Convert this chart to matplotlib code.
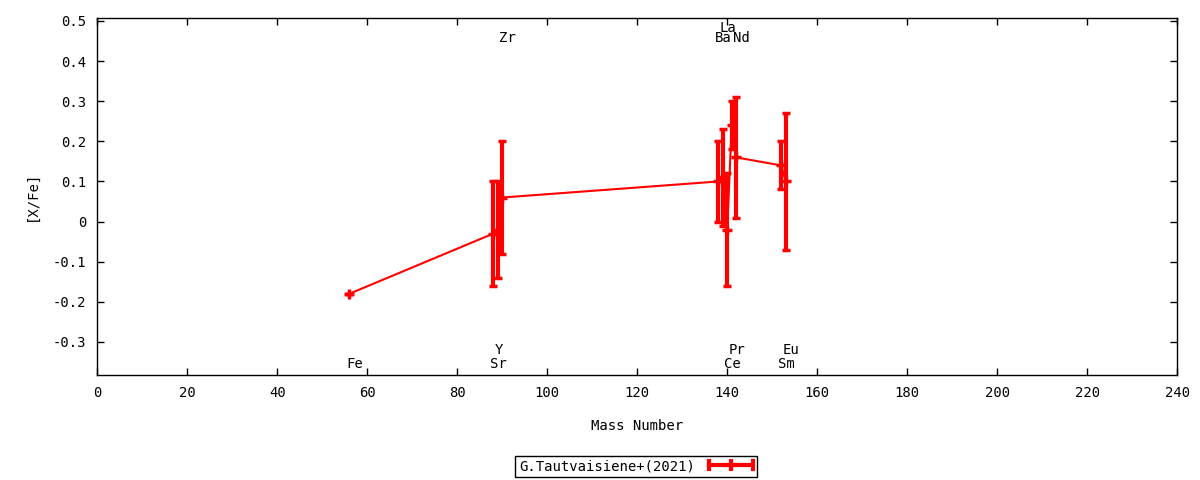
import matplotlib
matplotlib.use('Agg')
from matplotlib import pyplot as plt
from matplotlib.legend_handler import HandlerBase
from matplotlib.lines import Line2D
from matplotlib.ticker import FuncFormatter, MultipleLocator

# 元素、质量数、丰度及误差
elements = ['Fe', 'Sr', 'Y', 'Zr', 'Ba', 'La', 'Ce', 'Pr', 'Nd', 'Sm', 'Eu']
mass = [56, 88, 89, 90, 138, 139, 140, 141, 142, 152, 153]
x_fe = [-0.18, -0.03, -0.02, 0.06, 0.10, 0.11, -0.02, 0.24, 0.16, 0.14, 0.10]
err = [0.0, 0.13, 0.12, 0.14, 0.10, 0.12, 0.14, 0.06, 0.15, 0.06, 0.17]
# 标签所在的行：0=下面低, 1=下面高, 2=上面低, 3=上面高
label_row = [0, 0, 1, 2, 2, 3, 0, 1, 2, 0, 1]
row_y = {0: -0.355, 1: -0.32, 2: 0.458, 3: 0.483}

legend_name = 'G.Tautvaisiene+(2021)'
RED = '#ff0000'

plt.rcParams['font.family'] = ['DejaVu Sans Mono']
plt.rcParams['font.size'] = 10


class ErrHandler(HandlerBase):
    # gnuplot 风格的图例：横线 + 两端竖线 + 中间十字
    def create_artists(self, legend, orig_handle, xdescent, ydescent,
                       width, height, fontsize, trans):
        y = height / 2 - ydescent
        x0, x1 = -xdescent, width - xdescent
        xm = (x0 + x1) / 2
        arts = [Line2D([x0, x1], [y, y], color=RED, lw=3)]
        for xx in (x0, x1):
            arts.append(Line2D([xx, xx], [y - 3, y + 3], color=RED, lw=3))
        arts.append(Line2D([xm], [y], color=RED, marker='+', ms=9, mew=3))
        for a in arts:
            a.set_transform(trans)
        return arts


fig = plt.figure(figsize=(12, 4.8), dpi=100)
ax = fig.add_axes([0.081, 0.219, 0.9, 0.744])

ax.errorbar(mass, x_fe, yerr=err, color=RED, lw=1.5, marker='+', ms=7, mew=2.5,
            elinewidth=3, capsize=3, capthick=3, zorder=3)

for el, m, r in zip(elements, mass, label_row):
    ax.text(m - 0.7, row_y[r], el, ha='left', va='center', fontsize=10)

ax.set_xlim(0, 240)
ax.set_ylim(-0.382, 0.508)
ax.xaxis.set_major_locator(MultipleLocator(20))
ax.yaxis.set_major_locator(MultipleLocator(0.1))
ax.yaxis.set_major_formatter(FuncFormatter(lambda v, p: '%g' % round(v, 2)))
ax.tick_params(direction='in', length=5, width=1, top=True, right=True,
               labelsize=10, pad=8)
for s in ax.spines.values():
    s.set_linewidth(1)

ax.set_xlabel('Mass Number', fontsize=10, labelpad=14)
ax.set_ylabel('[X/Fe]', fontsize=10, labelpad=10)

proxy = Line2D([], [], color=RED)
leg = fig.legend([proxy], [legend_name], loc='center', bbox_to_anchor=(0.53, 0.029),
                 markerfirst=False, fancybox=False, edgecolor='black', framealpha=1,
                 handler_map={Line2D: ErrHandler()}, handlelength=3.2,
                 fontsize=10, borderpad=0.25, borderaxespad=0, handletextpad=1.0)
leg.get_frame().set_linewidth(1)

plt.savefig('out.png', dpi=100)
